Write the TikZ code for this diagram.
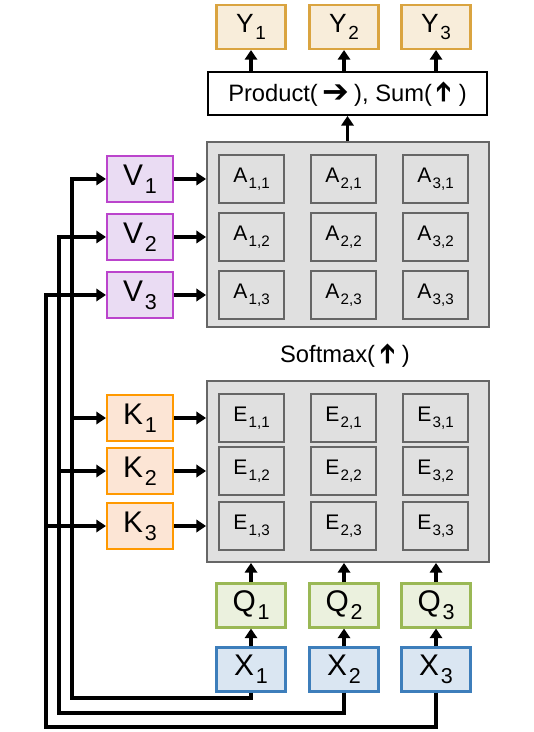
\documentclass[tikz,border=0pt]{standalone}
\usepackage{fontspec}
\setmainfont{Liberation Sans}
\newfontfamily\symfont{DejaVu Sans}
\usepackage{tikz}
\usetikzlibrary{arrows.meta}
\definecolor{yfill}{HTML}{F8EDDA}
\definecolor{yline}{HTML}{DAA440}
\definecolor{vfill}{HTML}{EADCF3}
\definecolor{vline}{HTML}{BB44CC}
\definecolor{kfill}{HTML}{FCE5D5}
\definecolor{kline}{HTML}{FF9900}
\definecolor{qfill}{HTML}{EBF1DE}
\definecolor{qline}{HTML}{9AB855}
\definecolor{xfill}{HTML}{DAE6F2}
\definecolor{xline}{HTML}{3D7EBB}
\definecolor{panelfill}{HTML}{E0E0E0}
\definecolor{panelline}{HTML}{666666}
\newcommand{\sub}[1]{\hspace{0.06em}\raisebox{-0.27em}{\scalebox{0.72}{#1}}}
\newcommand{\rarr}{\hspace{0.2em}\raisebox{-0.08em}{\scalebox{1.35}{\symfont ➔}}\hspace{0.2em}}
\newcommand{\uparr}{\hspace{0.25em}\raisebox{-0.12em}{\rotatebox{90}{\scalebox{1.15}{\symfont ➔}}}\hspace{0.25em}}

\begin{document}
\begin{tikzpicture}[x=0.02cm,y=-0.02cm,
  box/.style={draw,line width=1.2pt,minimum width=1.38cm,minimum height=0.88cm,inner sep=0pt,font=\fontsize{17}{20}\selectfont},
  panel/.style={draw=panelline,fill=panelfill,line width=1.1pt,inner sep=0pt},
  cell/.style={panel,minimum width=1.3cm,minimum height=0.96cm,font=\fontsize{12}{14}\selectfont},
  conn/.style={line width=2pt,-{Triangle[length=5.5pt,width=7pt]}}]
  \useasboundingbox (0,0) rectangle (533,732);
  % panels and their cells
  \node[panel,minimum width=5.64cm,minimum height=3.7cm] (A) at (348,234.5) {};
  \node[panel,minimum width=5.64cm,minimum height=3.62cm] (E) at (348,471.5) {};
  \foreach \i/\x in {1/251.5,2/343.5,3/435.5}{
    \foreach \j/\y in {1/179,2/237,3/295}{\node[cell] (a\i\j) at (\x,\y) {A\sub{\i,\j}};}
    \foreach \j/\y in {1/418,2/471,3/526}{\node[cell] (e\i\j) at (\x,\y) {E\sub{\i,\j}};}
  }
  \node[font=\fontsize{13.5}{16}\selectfont] (soft) at (345,355) {Softmax(\uparr)};
  \node[draw,line width=1.1pt,minimum width=5.58cm,minimum height=0.86cm,font=\fontsize{13.5}{16}\selectfont] (prod) at (347.5,93.5) {Product(\rarr), Sum(\uparr)};
  % input, query and output columns
  \foreach \i/\x in {1/251,2/344,3/436}{
    \node[box,fill=yfill,draw=yline,font=\fontsize{15}{18}\selectfont] (y\i) at (\x,27) {Y\sub{\i}};
    \node[box,fill=qfill,draw=qline] (q\i) at (\x,605.5) {Q\sub{\i}};
    \node[box,fill=xfill,draw=xline] (x\i) at (\x,669.5) {X\sub{\i}};
    \draw[conn] (x\i) -- (q\i);
    \draw[conn] (q\i) -- (q\i |- E.south);
    \draw[conn] (y\i.south |- prod.north) -- (y\i);
  }
  \draw[conn] (prod.south |- A.north) -- (prod);
  % value and key rows, fed from the inputs
  \foreach \i/\yv/\yk/\xw/\yw in {1/179/418/72/698,2/237/471/59/713,3/295/526/46/727}{
    \node[box,fill=vfill,draw=vline,minimum width=1.32cm,minimum height=0.92cm] (v\i) at (140,\yv) {V\sub{\i}};
    \node[box,fill=kfill,draw=kline,minimum width=1.32cm,minimum height=0.92cm] (k\i) at (140,\yk) {K\sub{\i}};
    \draw[conn] (v\i) -- (v\i -| A.west);
    \draw[conn] (k\i) -- (k\i -| E.west);
    \coordinate (w\i) at (\xw,\yw);
    \draw[conn] (x\i) -- (x\i |- w\i) -- (w\i) |- (v\i);
    \draw[conn] (w\i |- k\i) -- (k\i);
  }
\end{tikzpicture}
\end{document}
